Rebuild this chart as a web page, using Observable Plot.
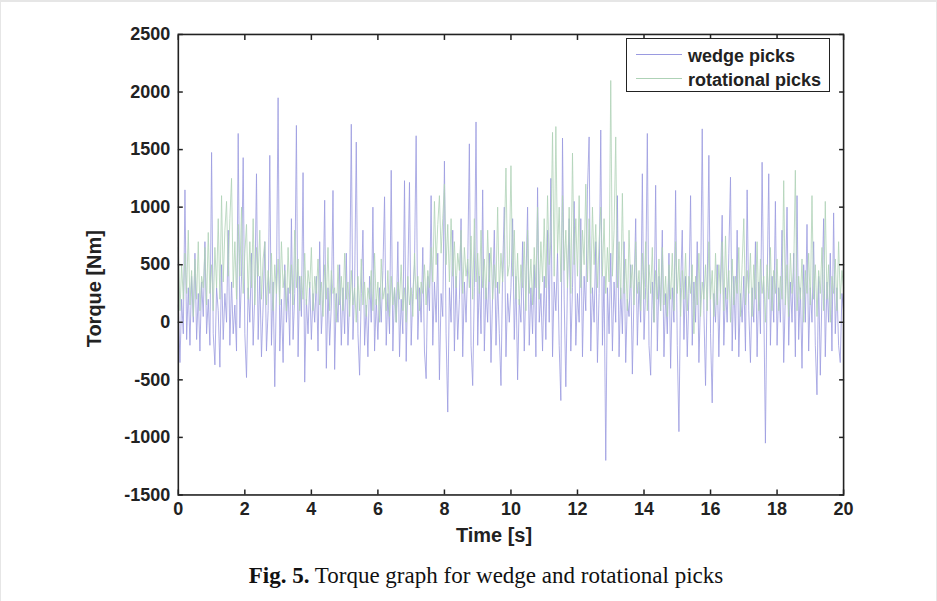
<!DOCTYPE html>
<html>
<head>
<meta charset="utf-8">
<script src="https://cdn.jsdelivr.net/npm/d3@7"></script>
<script src="https://cdn.jsdelivr.net/npm/@observablehq/plot@0.6"></script>
<style>
  html, body { margin: 0; padding: 0; background: #e6e6e6; }
  #page { position: absolute; left: 1px; top: 2px; width: 935px; height: 599px; background: #fff; overflow: hidden; }
  #chart { position: absolute; left: -1px; top: -2px; }
  #legend { position: absolute; left: 625px; top: 36px; width: 202px; height: 52px; border: 1.6px solid #222; background: #fff;
            font-family: "Liberation Sans", Arial, sans-serif; font-weight: bold; font-size: 18px; color: #222; }
  #legend .row { position: absolute; left: 0; height: 22px; width: 100%; }
  #legend .sw { position: absolute; left: 9px; width: 46px; top: 8px; height: 0; border-top: 1px solid; }
  #legend .lab { position: absolute; left: 61px; top: 0px; white-space: nowrap; }
  #caption { position: absolute; left: 0; width: 970px; top: 561px; text-align: center;
             font-family: "Liberation Serif", "Times New Roman", serif; font-size: 23px; color: #111; }
</style>
</head>
<body>
<div id="page">
  <div id="chart"></div>
  <div id="legend">
    <div class="row" style="top:7px"><div class="sw" style="border-color:#9a9ae0"></div><div class="lab">wedge picks</div></div>
    <div class="row" style="top:31px"><div class="sw" style="border-color:#aed2b6"></div><div class="lab">rotational picks</div></div>
  </div>
  <div id="caption"><b>Fig. 5.</b> Torque graph for wedge and rotational picks</div>
</div>
<script>
// sampling step of the recorded signals [s]
const step = 0.05;

// x-axis ticks (Time [s]) and y-axis ticks (Torque [Nm])
const xTicks = [0, 2, 4, 6, 8, 10, 12, 14, 16, 18, 20];
const yTicks = [-1500, -1000, -500, 0, 500, 1000, 1500, 2000, 2500];

const seriesNames = ["wedge picks", "rotational picks"];

// wedge picks torque [Nm], one row per second (20 samples each), plus final sample at 20 s
const wedge = [
  150, -350, 200, -100, 1150, -150, 300, -200, 400, 0, 600, -150, 250, -250, 350, 50, 700, -100, 200, -200,
  1475, -100, -370, 300, 100, -390, 500, -150, 250, 0, 800, -200, 350, -100, 150, -250, 1640, -50, 400, 1430,
  -100, -480, 300, 0, 600, -200, 250, 1290, -150, 400, -300, 150, 700, -250, 100, 1450, -200, 350, -560, 300,
  1950, -250, 200, -350, 500, 0, 300, -200, 900, -150, 250, 1710, -300, 400, 50, 1300, -520, 200, -100, 350,
  -150, 250, 0, 400, -250, 700, -100, 200, 1060, -400, 300, -200, 150, 1145, -410, 250, 0, 500, -200, 300,
  -100, 600, -200, 200, 1720, -150, 300, 1565, -100, -460, 250, 800, -200, 150, -300, 400, 0, 1000, -250, 200,
  -150, 300, 0, 450, 1090, -200, 250, -100, 1320, -250, 300, 0, 700, -300, 200, -100, 1230, -340, 400, 1215,
  -200, 250, 500, 1620, -150, 300, 0, 650, -250, -490, 400, 100, 1100, -200, 350, 0, 600, -500, 250, 50,
  1400, -100, -780, 300, 0, 800, -250, 400, -150, 200, 900, -300, 350, 0, 500, 1550, -200, -550, 300, 1740,
  -200, 400, -100, 1150, -250, 300, 0, 600, -350, 250, 800, -200, 350, -100, -550, 450, 1000, -300, 250, 0,
  300, 900, -150, 400, -500, 200, 0, 700, -250, 350, 1000, -200, 300, -100, 500, -300, 1170, 0, 250, -250,
  400, -150, 800, 0, 1250, -300, 350, 100, 600, -200, -680, 1600, 200, -560, 350, 900, -250, 300, 1050, -200,
  250, 0, 900, -300, 400, 100, 1150, 1610, -250, 300, 0, 700, -350, 250, 1670, -200, 400, -1200, 300, -100,
  600, -250, 350, 0, 1100, -300, 300, -100, 700, -350, 200, 50, 500, -450, 250, 900, -200, 350, 0, 1290,
  -150, 300, 1640, -200, -460, 350, 0, 1190, -250, 400, 100, 800, -300, 250, -100, 600, -400, 300, 0, 1145,
  -200, -950, 300, 800, -150, 400, -300, 250, 1100, -200, 350, 0, 700, -350, 200, 1680, 100, -550, 300, 1450,
  -100, -700, 250, 0, 500, -300, 350, 930, -200, 300, 0, 600, 1260, -250, 400, -150, 800, -300, 250, 0,
  400, -250, 1150, 100, -350, 300, 0, 700, -300, 350, -100, 1390, 200, -1050, 300, 1290, -200, 400, 0, 1050,
  -200, 300, 0, 800, -350, 250, 1000, -200, 350, 0, 600, -300, 1100, -150, 300, -400, 500, 0, 850, -250,
  300, 0, 700, -200, -630, 400, -460, 250, 900, -300, 350, 0, 600, -250, 950, -100, 300, -200, -350, 250,
  100
];

// rotational picks torque [Nm], same sampling
const rotational = [
  650, 100, 500, 200, 600, 250, 800, 150, 450, 50, 550, 200, 700, 100, 400, 300, 650, 150, 780, 250,
  500, 100, 650, 300, 900, 200, 1100, 350, 800, 1050, 400, 900, 1250, 300, 700, 200, 850, 400, 1000, 250,
  600, 850, 200, 700, 300, 900, 150, 650, 400, 800, 200, 550, 700, 150, 450, 250, 600, 100, 500, 250,
  550, 150, 700, 300, 450, 100, 650, 250, 500, 150, 800, 300, 550, 100, 400, 200, 600, 150, 450, 300,
  650, 100, 400, 250, 550, 150, 350, 50, 500, 200, 650, 100, 450, 250, 300, 0, 500, 150, 400, 100,
  600, 200, 350, 50, 450, 150, 300, 0, 400, 100, 550, 150, 350, 50, 300, 200, 450, 100, 600, 150,
  350, 0, 550, 200, 300, 100, 450, 50, 400, 150, 300, 0, 350, 200, 500, 100, 300, 0, 400, 150,
  300, 50, 600, 200, 400, 100, 350, 250, 500, 150, 450, 300, 650, 350, 1050, 500, 850, 1100, 600, 900,
  1200, 500, 850, 350, 900, 400, 700, 300, 600, 450, 800, 250, 650, 400, 550, 300, 750, 200, 900, 350,
  600, 250, 800, 300, 550, 200, 800, 350, 650, 200, 500, 300, 1000, 250, 600, 350, 700, 1340, 400, 500,
  1360, 400, 800, 200, 600, 150, 500, 300, 700, 100, 800, 250, 550, 150, 650, 300, 1000, 200, 700, 350,
  900, 300, 1100, 500, 700, 1650, 400, 1700, 600, 1000, 350, 1100, 450, 800, 300, 1000, 250, 1470, 500, 900,
  400, 1100, 300, 800, 500, 1200, 350, 900, 250, 1000, 500, 850, 300, 700, 1000, 400, 900, 250, 650, 350,
  2100, 400, 800, 1610, 300, 700, 200, 1120, 250, 550, 100, 800, 300, 500, 150, 700, 250, 450, 100, 600,
  200, 700, 100, 500, 250, 650, 0, 450, 200, 550, 100, 650, 150, 400, 50, 500, 200, 600, 100, 700,
  250, 550, 50, 450, 200, 600, 100, 400, 250, 500, -100, 400, 150, 600, 50, 350, 200, 500, 100, 700,
  200, 450, 50, 600, 150, 500, 250, 700, 100, 750, 200, 450, 0, 550, 150, 400, 250, 650, 50, 500,
  900, 150, 450, 250, 600, 50, 500, 200, 700, 100, 550, 250, 400, 0, 500, 200, 650, 100, 450, 250,
  550, 100, 400, 200, 1230, 150, 500, 50, 600, 250, 450, 1320, 100, 400, 200, 550, 0, 450, 250, 600,
  150, 1100, 200, 500, 50, 450, 250, 650, 100, 1050, 200, 500, 0, 400, 250, 550, 100, 700, 200, 450,
  300
];

const wedgeData = wedge.map((v, i) => ({t: i * step, v, series: seriesNames[0]}));
const rotData = rotational.map((v, i) => ({t: i * step, v, series: seriesNames[1]}));

const axisStyle = {fontSize: 18, fontWeight: "bold"};
const plainFormat = d => String(d);

const chart = Plot.plot({
  width: 937,
  height: 560,
  marginLeft: 178,
  marginRight: 93,
  marginTop: 34,
  marginBottom: 65,
  style: {fontFamily: "'Liberation Sans', Arial, sans-serif", fontSize: "18px", fontWeight: "bold", color: "#222", background: "transparent"},
  x: {domain: [0, 20]},
  y: {domain: [-1500, 2500]},
  marks: [
    Plot.line(wedgeData, {x: "t", y: "v", stroke: "#9a9ae0", strokeWidth: 0.8}),
    Plot.line(rotData, {x: "t", y: "v", stroke: "#aed2b6", strokeWidth: 0.8}),
    Plot.axisX({anchor: "bottom", ticks: xTicks, tickSize: -5, tickPadding: 12, tickFormat: plainFormat, label: "Time [s]", labelAnchor: "center", labelArrow: "none", labelOffset: 47, ...axisStyle}),
    Plot.axisX({anchor: "top", ticks: xTicks, tickSize: -5, tickFormat: () => "", label: null}),
    Plot.axisY({anchor: "left", ticks: yTicks, tickSize: -5, tickPadding: 13, tickFormat: plainFormat, label: "Torque [Nm]", labelAnchor: "center", labelOffset: 92, labelArrow: "none", ...axisStyle}),
    Plot.axisY({anchor: "right", ticks: yTicks, tickSize: -5, tickFormat: () => "", label: null}),
    Plot.frame({stroke: "#222", strokeWidth: 1.6})
  ]
});
document.getElementById("chart").appendChild(chart);
const svgSel = d3.select(chart.tagName.toLowerCase() === "svg" ? chart : chart.querySelector("svg"));
svgSel.selectAll('[aria-label="x-axis label"] text, [aria-label="y-axis label"] text').attr("font-size", 20);
svgSel.selectAll('[aria-label="x-axis label"]').attr("transform", function () {
  return `translate(-17,0) ${this.getAttribute("transform") || ""}`;
});
svgSel.selectAll('[aria-label="y-axis label"]').attr("transform", function () {
  return `translate(0,24) ${this.getAttribute("transform") || ""}`;
});
svgSel.selectAll('[aria-label="x-axis tick"] path, [aria-label="y-axis tick"] path').attr("stroke", "#222").attr("stroke-width", 1.5);
</script>
</body>
</html>
